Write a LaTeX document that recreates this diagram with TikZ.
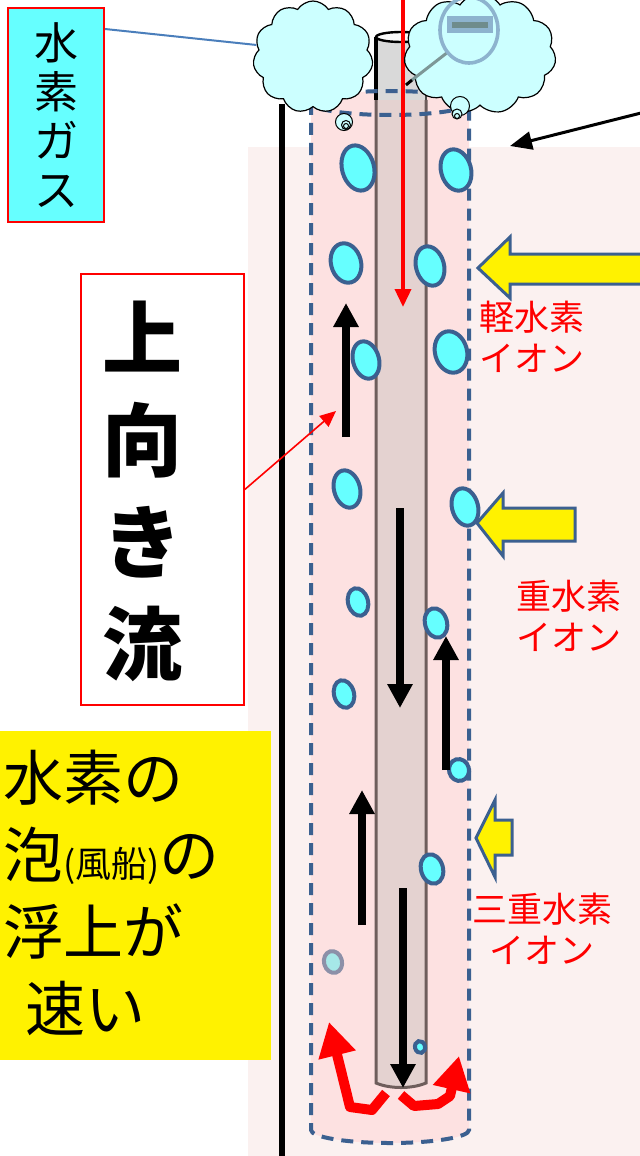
\documentclass[tikz,border=0pt]{standalone}
\usepackage{fontspec}
\newfontfamily\jp{Noto Sans CJK JP}
\usetikzlibrary{arrows.meta,shapes.geometric,shapes.symbols}
\definecolor{bgpink}{HTML}{FBF1F0}
\definecolor{cylpink}{HTML}{FDE1E1}
\definecolor{tubefill}{HTML}{E4D2D0}
\definecolor{tubeline}{HTML}{6E5E5C}
\definecolor{tubegray}{HTML}{D9D9D9}
\definecolor{dashblue}{HTML}{3B6090}
\definecolor{bubblefill}{HTML}{66FFFF}
\definecolor{cloudfill}{HTML}{CCFFFF}
\definecolor{linkblue}{HTML}{4A7EBB}
\definecolor{lensblue}{HTML}{8DB3CE}
\definecolor{lensbar}{HTML}{6F8C8C}
\definecolor{fadedfill}{HTML}{A6E8E8}
\definecolor{fadedline}{HTML}{8C90A8}
\begin{document}
\begin{tikzpicture}[x=0.5pt,y=-0.5pt,
  bubble/.style={ellipse, draw=dashblue, fill=bubblefill, line width=2pt, inner sep=0pt, rotate=15},
  flow/.style={line width=4pt, -{Triangle[width=12pt,length=12pt]}},
  ionarrow/.style={fill=yellow, draw=dashblue, line width=1.5pt, line join=miter},
  ionlabel/.style={text=red, font=\jp\fontsize{17.5}{20.5}\selectfont, align=center, inner sep=0pt},
  puff/.style={circle, draw, inner sep=0pt, line width=0.5pt, fill=cloudfill},
  cloudy/.style={cloud, cloud puffs=11, cloud puff arc=115, draw, fill=cloudfill, line width=0.6pt, inner sep=0pt},
  redturn/.style={draw=red, line width=5pt, line join=round, -{Triangle[width=18pt,length=17pt]}},
  cylinder dash/.style={draw=dashblue, line width=2pt, dash pattern=on 6pt off 4pt}]
\useasboundingbox (0,0) rectangle (640,1156);

% water background
\fill[bgpink] (248,147) rectangle (640,1156);

% rising column (pink cylinder)
\fill[cylpink] (311,103) -- (311,1130) arc[start angle=180,end angle=0,x radius=79,y radius=13]
  -- (469,103) arc[start angle=0,end angle=-180,x radius=79,y radius=12] -- cycle;

% central tube
\fill[tubefill] (376,100) -- (376,1083) .. controls (390,1089) and (412,1089) .. (426,1083) -- (426,100) -- cycle;
\draw[tubeline, line width=1.5pt] (376,100) -- (376,1083) .. controls (390,1089) and (412,1089) .. (426,1083) -- (426,100);
\fill[tubegray] (376,37) rectangle (426,100);
\draw[black, line width=1.8pt] (376,100) -- (376,37);
\draw[black!70, line width=1.2pt] (426,100) -- (426,37);
\filldraw[fill=white!85!tubegray, draw=black, line width=1.2pt] (401,37) ellipse[x radius=25, y radius=5];

% wall of the vessel
\draw[line width=3pt] (282,104) -- (282,1156);

% dashed outline of the column
\draw[cylinder dash] (390,103) ellipse[x radius=79, y radius=12];
\draw[cylinder dash] (311,103) -- (311,1130) arc[start angle=180,end angle=0,x radius=79,y radius=13] -- (469,103);

% bubbles
\node[bubble, minimum width=16pt, minimum height=23pt] (b1) at (358,168) {};
\node[bubble, minimum width=15pt, minimum height=21pt] (b2) at (456,170) {};
\node[bubble, minimum width=15pt, minimum height=20pt] (b3) at (346,263) {};
\node[bubble, minimum width=14pt, minimum height=20pt] (b4) at (430,266) {};
\node[bubble, minimum width=13pt, minimum height=19pt] (b5) at (366,360) {};
\node[bubble, minimum width=16pt, minimum height=21pt] (b6) at (451,352) {};
\node[bubble, minimum width=13pt, minimum height=19pt] (b7) at (347,489) {};
\node[bubble, minimum width=13pt, minimum height=19pt] (b8) at (465,507) {};
\node[bubble, minimum width=10pt, minimum height=14pt] (b9) at (358,602) {};
\node[bubble, minimum width=11pt, minimum height=15pt] (b10) at (436,623) {};
\node[bubble, minimum width=10pt, minimum height=14pt] (b11) at (344,694) {};
\node[bubble, minimum width=10pt, minimum height=11pt] (b12) at (459,770) {};
\node[bubble, minimum width=11pt, minimum height=15pt] (b13) at (432,869) {};
\node[bubble, minimum width=9pt, minimum height=11pt, draw=fadedline, fill=fadedfill] (b14) at (333,962) {};
\node[bubble, minimum width=5pt, minimum height=6pt] (b15) at (420,1047) {};

% flow arrows
\coordinate (u1s) at (346,437); \coordinate (u1e) at (346,303);
\coordinate (d1s) at (400,508); \coordinate (d1e) at (400,708);
\coordinate (u2s) at (446,770); \coordinate (u2e) at (446,636);
\coordinate (u3s) at (362,925); \coordinate (u3e) at (362,790);
\coordinate (d2s) at (403,888); \coordinate (d2e) at (403,1088);
\draw[flow] (u1s) -- (u1e);
\draw[flow] (d1s) -- (d1e);
\draw[flow] (u2s) -- (u2e);
\draw[flow] (u3s) -- (u3e);
\draw[flow] (d2s) -- (d2e);

% feed line down the tube
\coordinate (feedtop) at (403,0); \coordinate (feedend) at (403,307);
\draw[red, line width=1.8pt, -{Triangle[width=8pt,length=9pt]}] (feedtop) -- (feedend);

% turning flow at the bottom
\coordinate (tl) at (386,1093); \coordinate (tlend) at (329,1022);
\coordinate (tr) at (401,1095); \coordinate (trend) at (459,1056);
\draw[redturn] (tl) -- (372,1110) -- (350,1107) -- (tlend);
\draw[redturn] (tr) -- (414,1106) -- (438,1104) -- (450,1096) -- (trend);

% incoming ions
\path[ionarrow] (478,268) -- (510,237) -- (510,254) -- (650,254) -- (650,284) -- (510,284) -- (510,298) -- cycle;
\path[ionarrow] (477,523) -- (503,493) -- (503,508) -- (575,508) -- (575,541) -- (503,541) -- (503,556) -- cycle;
\path[ionarrow] (476,838) -- (495,800) -- (495,820) -- (512,820) -- (512,855) -- (495,855) -- (495,877) -- cycle;
\node[ionlabel] (ion1) at (532,337) {軽水素\\イオン};
\node[ionlabel] (ion2) at (569,616) {重水素\\イオン};
\node[ionlabel] (ion3) at (542,929) {三重水素\\イオン};

% gas clouds at the surface
\node[cloudy, minimum width=60pt, minimum height=56pt] (lcloud) at (313,57) {};
\node[cloudy, minimum width=76pt, minimum height=60pt] (rcloud) at (480,54) {};
\node[puff, minimum size=8.5pt] (lp1) at (344,122) {};
\node[puff, minimum size=4.5pt] (lp2) at (346,125) {};
\node[puff, minimum size=2.5pt] (lp3) at (346,126) {};
\node[puff, minimum size=9.5pt] (rp1) at (460,106) {};
\node[puff, minimum size=5pt] (rp2) at (457,114) {};
\node[puff, minimum size=2.5pt] (rp3) at (457,116) {};

% lens with minus sign
\draw[lensbar!90, line width=1.5pt] (448,52) -- (412,80);
\draw[black, line width=1.5pt] (412,80) -- (406,85);
\draw[lensblue, line width=1.8pt] (469,30) ellipse[x radius=29, y radius=33];
\fill[lensblue] (447,16) rectangle (493,33);
\fill[lensbar] (452,22) rectangle (488,28);

% pointer to the surface
\coordinate (ptrs) at (645,112);
\draw[line width=1.5pt, -{Triangle[width=9pt,length=11pt]}] (ptrs) -- (510,146);

% hydrogen gas label
\node[draw=red, line width=1pt, fill=bubblefill, minimum width=48pt, minimum height=107pt, inner sep=0pt,
      align=center, font=\jp\fontsize{22}{24.5}\selectfont] (gasbox) at (56,115) {水\\素\\ガ\\ス};
\coordinate (gasjoin) at (104,29);
\draw[linkblue, line width=1pt] (gasbox.north east |- gasjoin) -- (lcloud.168);

% upward flow label
\node[draw=red, line width=0.8pt, fill=white, minimum width=81.5pt, minimum height=215.5pt, inner sep=0pt] (upbox) at (162.5,489.5) {};
\node[font=\jp\bfseries\fontsize{40}{51}\selectfont, align=center, inner sep=0pt] (uptext) at (142,491) {上\\向\\き\\流};
\draw[red, line width=0.8pt, -{Triangle[width=7pt,length=8pt]}] (upbox.east) -- (336,411);

% note on bubbles
\node[fill=yellow, minimum width=135.5pt, minimum height=164.5pt, inner sep=0pt, anchor=north west] (note) at (0,731) {};
\node[font=\jp\fontsize{30}{38.5}\selectfont, align=left, inner sep=0pt, anchor=west] (notetext) at (3,893)
  {水素の\\泡{\fontsize{18}{18}\selectfont(風船)}の\\浮上が\\\hspace*{11pt}速い};
\end{tikzpicture}
\end{document}
